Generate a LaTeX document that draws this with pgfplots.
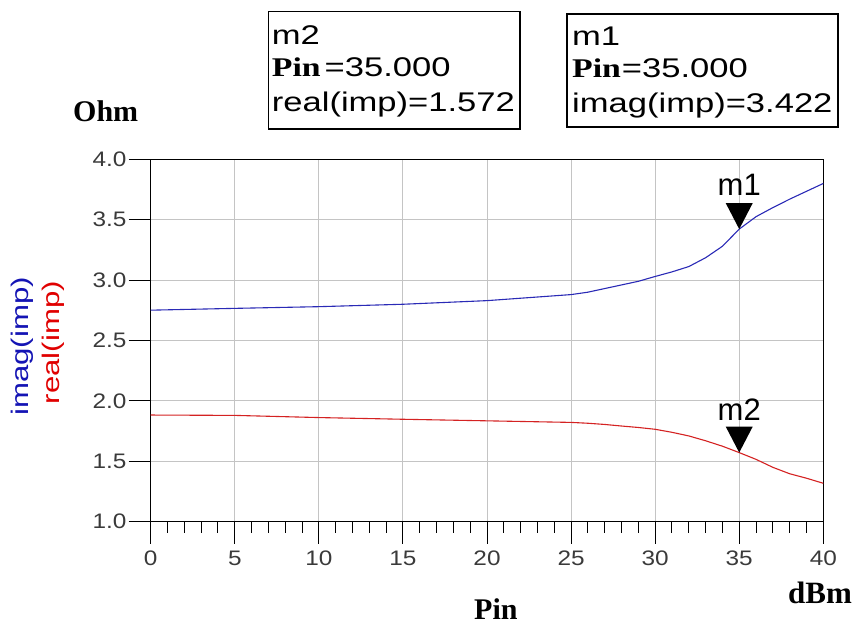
\documentclass[border=0pt]{standalone}
\usepackage{pgfplots}
\pgfplotsset{compat=1.18}
\usepackage{fontspec}
\setmainfont{Liberation Sans}
\newfontfamily\tickf[FakeStretch=1.16]{Liberation Sans}
\newfontfamily\boxf[FakeStretch=1.28]{Liberation Sans}
\newfontfamily\boxserf[FakeStretch=1.25]{Liberation Serif}
\newfontfamily\ylabf[FakeStretch=1.3]{Liberation Sans}
\newfontfamily\serf{Liberation Serif}
\definecolor{gridc}{HTML}{C4C4C4}
\definecolor{tickc}{HTML}{3A3A3A}
\definecolor{imagc}{HTML}{2A2AB6}
\definecolor{realc}{HTML}{D42222}
\definecolor{imagt}{HTML}{1414B4}
\definecolor{realt}{HTML}{E00000}

% marker: filled triangle with its tip on the data point
\pgfdeclareplotmark{tipdown}{%
  \pgfpathmoveto{\pgfpointorigin}%
  \pgfpathlineto{\pgfpoint{-13.5pt}{26pt}}%
  \pgfpathlineto{\pgfpoint{13.5pt}{26pt}}%
  \pgfpathclose
  \pgfusepathqfill}

\begin{document}
\begin{tikzpicture}
\path[use as bounding box] (0,0) rectangle (856pt,626pt);

\begin{axis}[
  at={(150.7pt,104.3pt)}, anchor=south west,
  scale only axis,
  width=672.6pt, height=362.4pt,
  xmin=0, xmax=40, ymin=1, ymax=4,
  xtick={0,5,...,40},
  ytick={1,1.5,2,2.5,3,3.5,4},
  minor x tick num=4,
  tick align=outside, tick pos=left,
  major tick length=22pt, minor tick length=11pt,
  grid=major,
  major grid style={draw=gridc, line width=1pt},
  axis line style={black, line width=1.3pt},
  tick style={black, line width=1pt},
  /pgf/number format/assume math mode=true,
  xticklabel style={font=\tickf\fontsize{21}{21}\selectfont, text=tickc, inner sep=0pt, yshift=-7pt},
  yticklabel style={font=\tickf\fontsize{21}{21}\selectfont, text=tickc, inner sep=2pt},
  yticklabel={\pgfmathprintnumber[fixed,fixed zerofill,precision=1]{\tick}},
  clip=false,
]
% imag(imp)
\addplot[imagc, line width=1.1pt] coordinates {
(0,2.751) (5,2.766) (10,2.780) (15,2.800) (20,2.830) (25,2.880)
(26,2.900) (27,2.930) (28,2.960) (29,2.990) (30,3.030) (31,3.068)
(32,3.112) (33,3.185) (34,3.280) (35,3.422) (36,3.525) (37,3.600)
(38,3.670) (39,3.735) (40,3.800)};
% real(imp)
\addplot[realc, line width=1.1pt] coordinates {
(0,1.883) (5,1.880) (10,1.862) (15,1.848) (20,1.835) (25,1.822)
(26,1.815) (27,1.805) (28,1.792) (29,1.780) (30,1.765) (31,1.740)
(32,1.710) (33,1.670) (34,1.625) (35,1.572) (36,1.516) (37,1.450)
(38,1.397) (39,1.360) (40,1.318)};
% markers
\addplot[only marks, mark=tipdown, mark options={black}] coordinates {(35,3.422)}
  node[pos=1, anchor=base, yshift=34pt, font=\fontsize{31}{31}\selectfont, text=black] {m1};
\addplot[only marks, mark=tipdown, mark options={black}] coordinates {(35,1.572)}
  node[pos=1, anchor=base, yshift=32pt, font=\fontsize{31}{31}\selectfont, text=black] {m2};
\end{axis}

% axis titles
\node[anchor=base west, inner sep=0pt, font=\serf\bfseries\fontsize{30}{30}\selectfont] at (73pt,504pt) {Ohm};
\node[anchor=base west, inner sep=0pt, font=\serf\bfseries\fontsize{30}{30}\selectfont] at (474pt,6pt) {Pin};
\node[anchor=base west, inner sep=0pt, font=\serf\bfseries\fontsize{31}{31}\selectfont] at (788pt,23pt) {dBm};
\node[rotate=90, anchor=east, inner sep=0pt, text=imagt, font=\ylabf\fontsize{24}{24}\selectfont] at (22.3pt,349pt) {imag(imp)};
\node[rotate=90, anchor=east, inner sep=0pt, text=realt, font=\ylabf\fontsize{24}{24}\selectfont] at (53pt,345pt) {real(imp)};

% marker readouts
\draw[black, line width=1.3pt] (268.3pt,614.3pt) rectangle (520pt,497pt);
\node[anchor=base west, inner sep=0pt, font=\boxf\fontsize{27}{27}\selectfont] at (271.7pt,581pt) {m2};
\node[anchor=base west, inner sep=0pt, font=\boxf\fontsize{27}{27}\selectfont] at (271.7pt,549.3pt) {{\boxserf\bfseries Pin}\hspace{4pt}=35.000};
\node[anchor=base west, inner sep=0pt, font=\boxf\fontsize{27}{27}\selectfont] at (271.7pt,514.3pt) {real(imp)=1.572};

\draw[black, line width=1.3pt] (567pt,612pt) rectangle (838pt,499pt);
\node[anchor=base west, inner sep=0pt, font=\boxf\fontsize{27}{27}\selectfont] at (572pt,580pt) {m1};
\node[anchor=base west, inner sep=0pt, font=\boxf\fontsize{27}{27}\selectfont] at (572pt,548pt) {{\boxserf\bfseries Pin}\hspace{1pt}=35.000};
\node[anchor=base west, inner sep=0pt, font=\boxf\fontsize{27}{27}\selectfont] at (572pt,513pt) {imag(imp)=3.422};
\end{tikzpicture}
\end{document}
